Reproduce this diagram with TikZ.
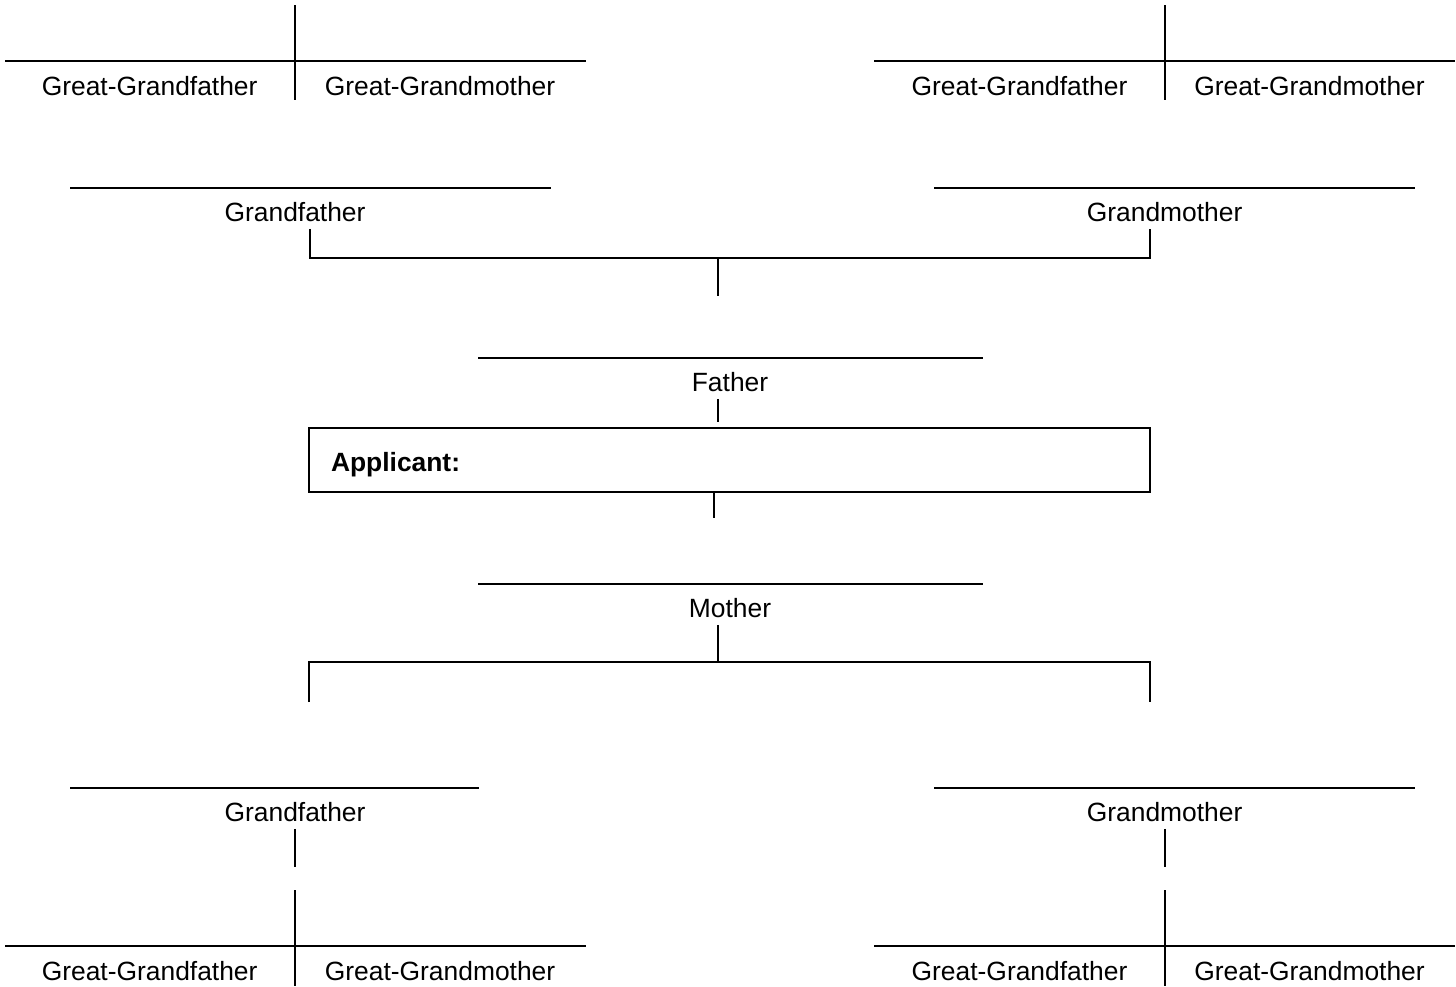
\documentclass[tikz,border=0pt]{standalone}
\usepackage{fontspec}
\setmainfont{Liberation Sans}
\usetikzlibrary{positioning, calc}

\begin{document}
\begin{tikzpicture}[x=0.5pt, y=-0.5pt]
    \tikzstyle{person} = [font=\fontsize{13.2}{15}\selectfont, inner xsep=0pt, inner ysep=3.5pt, text height=9.45pt, text depth=0pt]
    \tikzstyle{nameline} = [line width=1pt]
    \tikzstyle{link} = [line width=1pt]
    \tikzstyle{applicant} = [rectangle, draw=black, line width=1pt, font=\fontsize{13.2}{15}\selectfont\bfseries, text width=398.5pt, align=left, inner xsep=11pt, inner ysep=0pt, minimum height=32pt, text height=11.45pt, text depth=0pt]

    \useasboundingbox (0,0) rectangle (1456,986);

    % joints
    \coordinate (c1) at (295,61);
    \coordinate (c2) at (1165,61);
    \coordinate (c3) at (295,946);
    \coordinate (c4) at (1165,946);
    \coordinate (pbl) at (310,258);
    \coordinate (pbr) at (1150,258);
    \coordinate (pjoin) at (718,258);
    \coordinate (achild) at (714,518);
    \coordinate (mbl) at (309,662);
    \coordinate (mbr) at (1150,662);
    \coordinate (mjoin) at (718,662);

    % people
    \node[person] (ggf1) at (149.6,86) {Great-Grandfather};
    \node[person] (ggm1) at (440,86) {Great-Grandmother};
    \node[person] (ggf2) at (1019.5,86) {Great-Grandfather};
    \node[person] (ggm2) at (1309.5,86) {Great-Grandmother};
    \node[person] (pgf) at (295,212) {Grandfather};
    \node[person] (pgm) at (1164.6,212) {Grandmother};
    \node[person] (father) at (730,382) {Father};
    \node[applicant] (app) at (729.5,460) {Applicant:};
    \node[person] (mother) at (730,608) {Mother};
    \node[person] (mgf) at (295,812) {Grandfather};
    \node[person] (mgm) at (1164.6,812) {Grandmother};
    \node[person] (ggf3) at (149.6,971) {Great-Grandfather};
    \node[person] (ggm3) at (440,971) {Great-Grandmother};
    \node[person] (ggf4) at (1019.5,971) {Great-Grandfather};
    \node[person] (ggm4) at (1309.5,971) {Great-Grandmother};

    % name lines
    \draw[nameline] (5,61) -- (585.5,61);
    \draw[nameline] (874,61) -- (1455,61);
    \draw[nameline] (70,187.7) -- (551,187.7);
    \draw[nameline] (934,187.7) -- (1415,187.7);
    \draw[nameline] (478,357.7) -- (983,357.7);
    \draw[nameline] (478,583.7) -- (983,583.7);
    \draw[nameline] (70,787.7) -- (479,787.7);
    \draw[nameline] (934,787.7) -- (1415,787.7);
    \draw[nameline] (5,946) -- (585.5,946);
    \draw[nameline] (874,946) -- (1455,946);

    % couples
    \draw[link] ($(c1)+(0,-56)$) -- ($(c1)+(0,39)$);
    \draw[link] ($(c2)+(0,-56)$) -- ($(c2)+(0,39)$);
    \draw[link] ($(c3)+(0,-56)$) -- ($(c3)+(0,40)$);
    \draw[link] ($(c4)+(0,-56)$) -- ($(c4)+(0,40)$);

    % father's side
    \draw[link] (pgf.south -| pbl) -- (pbl) -- (pbr) -- (pgm.south -| pbr);
    \draw[link] (pjoin) -- ++(0,38);
    \draw[link, shorten >=2.5pt] (father.south -| pjoin) -- (app.north -| pjoin);
    \draw[link] (app.south -| achild) -- (achild);

    % mother's side
    \draw[link] (mother.south -| mjoin) -- (mjoin);
    \draw[link] ($(mbl)+(0,40)$) -- (mbl) -- (mbr) -- ($(mbr)+(0,40)$);
    \draw[link] (mgf.south) -- ++(0,38);
    \draw[link] (mgm.south) -- ++(0,38);
\end{tikzpicture}
\end{document}
